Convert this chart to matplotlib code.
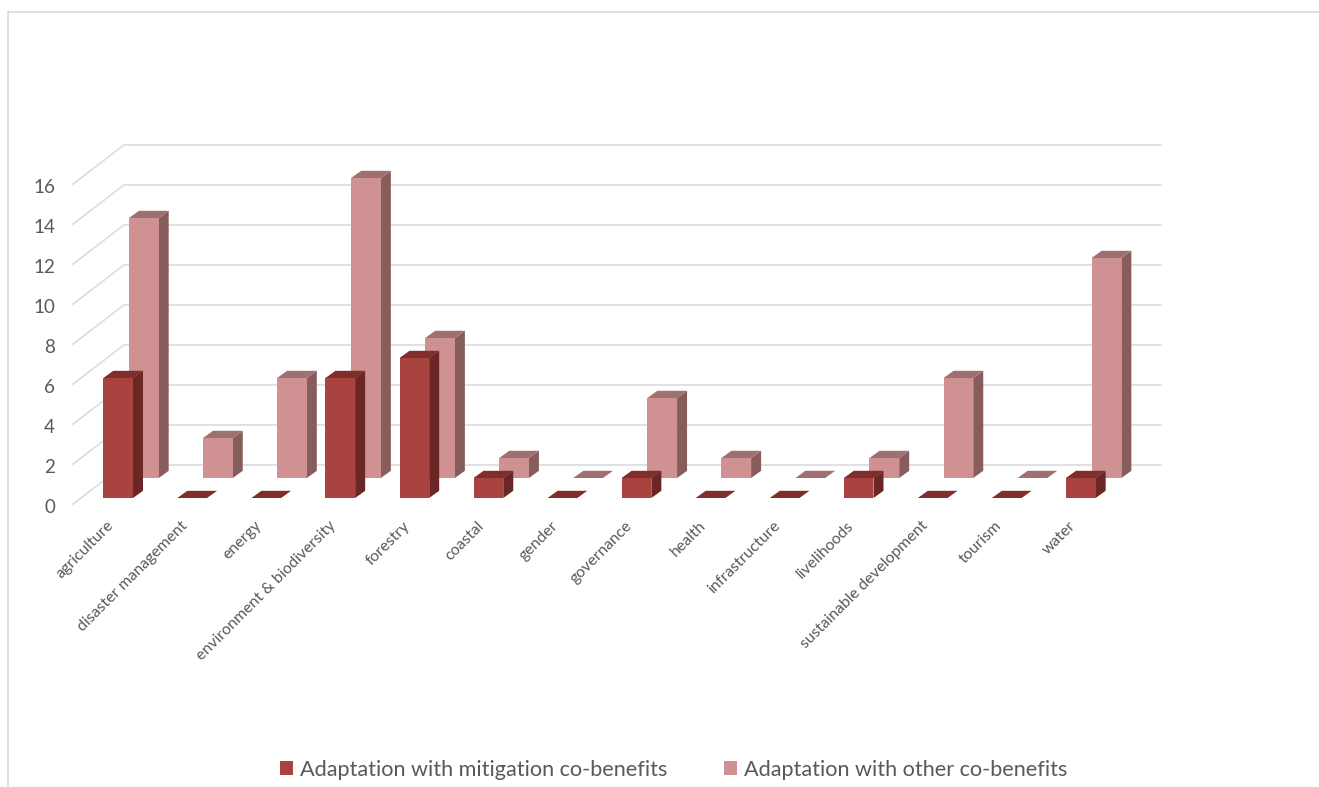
import matplotlib
matplotlib.use("Agg")
from matplotlib import pyplot as plt
from matplotlib.lines import Line2D
from matplotlib.patches import Patch, Polygon
from matplotlib.transforms import ScaledTranslation

# Data
#-----------------------------------------------------------------------------
categories = ["agriculture", "disaster management", "energy",
              "environment & biodiversity", "forestry", "coastal", "gender",
              "governance", "health", "infrastructure", "livelihoods",
              "sustainable development", "tourism", "water"]
mitigation = [6, 0, 0, 6, 7, 1, 0, 1, 0, 0, 1, 0, 0, 1]
other = [13, 2, 5, 15, 7, 1, 0, 4, 1, 0, 1, 5, 0, 11]
yticks = [0, 2, 4, 6, 8, 10, 12, 14, 16]
legend_names = ["Adaptation with mitigation co-benefits",
                "Adaptation with other co-benefits"]
#-----------------------------------------------------------------------------

W, H = 1319, 787
PX_X = 74.05  # pixels per category
PX_Y = 20.0   # pixels per value unit

plt.rcParams['font.family'] = ['Lato', 'DejaVu Sans']

fig = plt.figure(figsize=(W / 100, H / 100), dpi=100, facecolor="white")
ax = fig.add_axes([73 / W, (H - 504) / H, 1088 / W, 320 / H])
ax.set_xlim((73 - 118.3) / PX_X, (1161 - 118.3) / PX_X)
ax.set_ylim(0, 16)
ax.patch.set_visible(False)
for s in ax.spines.values():
    s.set_visible(False)

# Back wall gridlines and the diagonals on the side wall
wall_dx = 51 / PX_X
wall_dy = 39 / PX_Y
x0, x1 = ax.get_xlim()
for v in yticks:
    ax.plot([x0, x0 + wall_dx, x1], [v, v + wall_dy, v + wall_dy],
            color="#DCDCDC", lw=1.2, clip_on=False, zorder=1)


def draw_series(values, x_off, y_off, front, side, top, z):
    # front face through bar, then the side and top faces of the 3D look
    width = 29.7 / PX_X
    dx = 10 / PX_X
    dy = 7.2 / PX_Y
    xs = [i + x_off for i in range(len(values))]
    ax.bar(xs, values, width=width, bottom=y_off, align="edge", color=front,
           clip_on=False, zorder=z + 1, linewidth=0)
    for x, v in zip(xs, values):
        y = y_off + v
        if v > 0:
            ax.add_patch(Polygon([(x + width, y_off), (x + width + dx, y_off + dy),
                                  (x + width + dx, y + dy), (x + width, y)],
                                 closed=True, fc=side, ec="none",
                                 clip_on=False, zorder=z))
        ax.add_patch(Polygon([(x, y), (x + dx, y + dy),
                              (x + width + dx, y + dy), (x + width, y)],
                             closed=True, fc=top, ec="none",
                             clip_on=False, zorder=z))


# Back series first so the front series covers it
draw_series(other, 10.7 / PX_X, 1.3, "#D09192", "#875D5C", "#A07071", 2)
draw_series(mitigation, -15 / PX_X, 0.3, "#A9433F", "#6B2725", "#7F2E2C", 4)

# Axis labels
ax.set_yticks(yticks)
ax.set_yticklabels([str(v) for v in yticks], fontsize=13.5, color="#595959")
ax.set_xticks([i - 12 / PX_X for i in range(len(categories))])
ax.set_xticklabels(categories, rotation=45, ha="right", va="top",
                   rotation_mode="anchor", fontsize=11.4, color="#595959")
ax.tick_params(axis="y", length=0, pad=13)
ax.tick_params(axis="x", length=0, pad=10.5)
for lab in ax.get_yticklabels():
    lab.set_transform(lab.get_transform() + ScaledTranslation(0, -2 / 100, fig.dpi_scale_trans))

# Legend
handles = [Patch(facecolor="#A9433F", edgecolor="none"),
           Patch(facecolor="#D09192", edgecolor="none")]
fig.legend(handles, legend_names, loc="center", bbox_to_anchor=(673.5 / W, 1 - 770 / H),
           ncol=2, frameon=False, fontsize=15.6, labelcolor="#595959",
           handlelength=0.62, handleheight=0.62, handletextpad=0.3, columnspacing=2.6)

# Chart frame, left and top edges only
frame = "#D9D9D9"
fig.add_artist(Line2D([7.5 / W, 7.5 / W], [0, 1 - 12 / H], color=frame, lw=1.2))
fig.add_artist(Line2D([7.5 / W, 1], [1 - 12 / H, 1 - 12 / H], color=frame, lw=1.2))

fig.savefig("out.png", dpi=100, facecolor="white")
